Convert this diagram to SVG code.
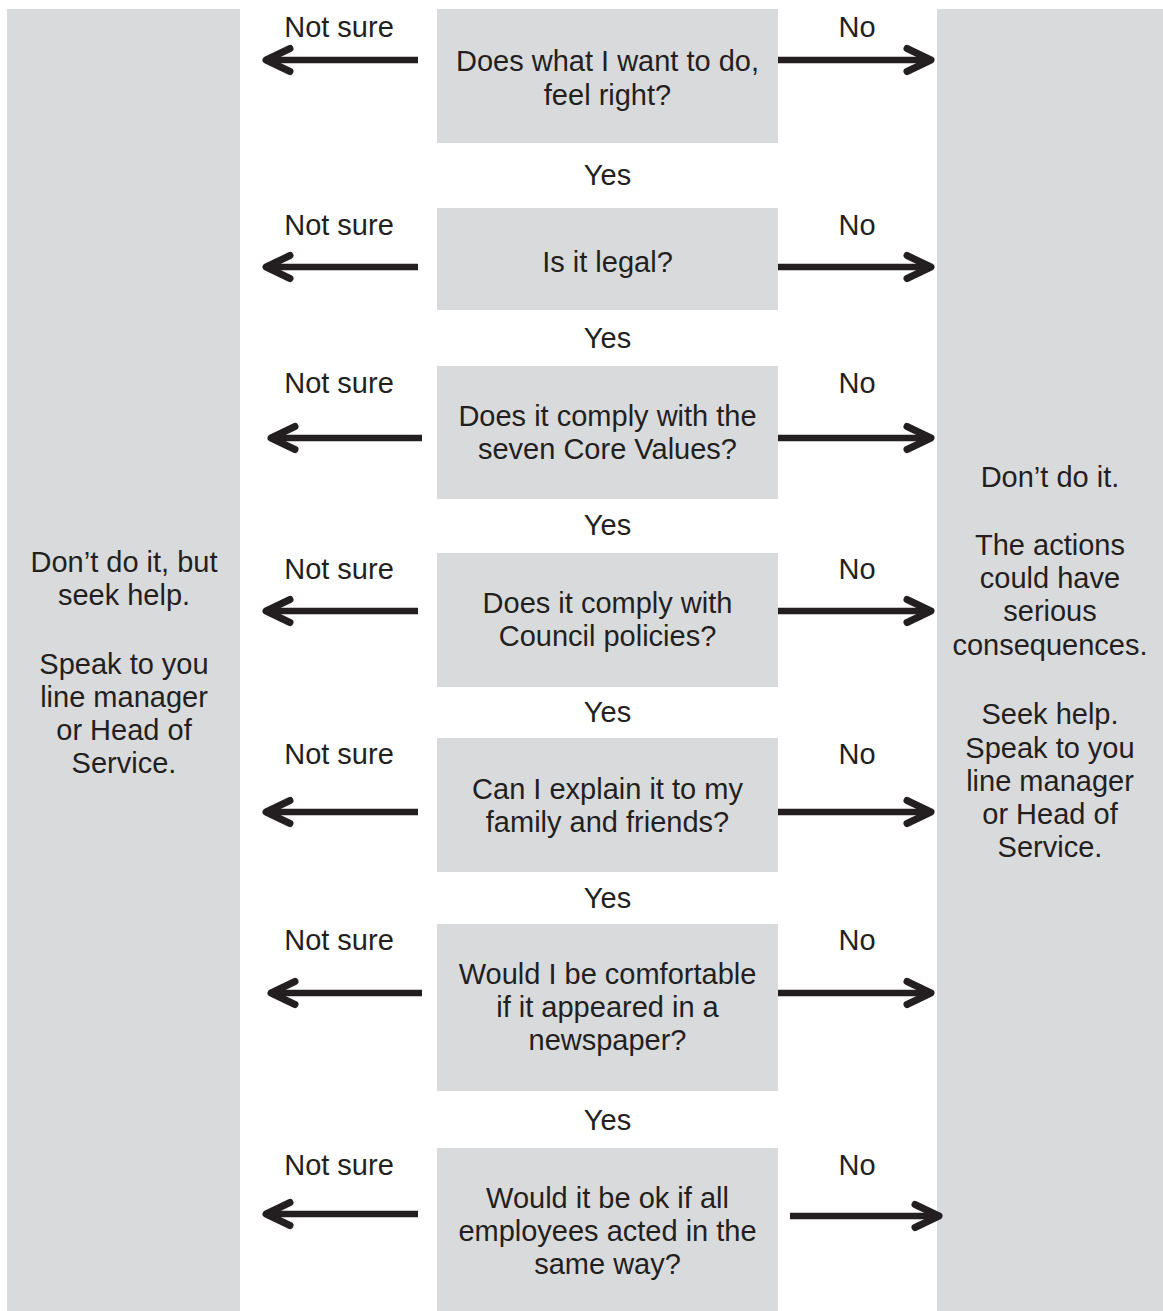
<svg xmlns="http://www.w3.org/2000/svg" width="1163" height="1311" viewBox="0 0 1163 1311">
<style>
.panel{fill:#d9dadc}
.box{fill:#d9dadc}
text{font-family:"Liberation Sans",Arial,sans-serif;font-size:29px;fill:#231f20;text-anchor:middle}
.arrow{stroke:#231f20;stroke-width:6.5;fill:none}
</style>
<defs>
<marker id="head" markerUnits="userSpaceOnUse" viewBox="-32 -18 40 36" markerWidth="40" markerHeight="36" refX="0" refY="0" orient="auto" overflow="visible">
<path d="M-24,-11.5 L0,0 L-24,11.5" fill="none" stroke="#231f20" stroke-width="7" stroke-linecap="round" stroke-linejoin="round"/>
</marker>
</defs>
<rect width="1163" height="1311" fill="#ffffff"/>
<g id="not-sure-panel">
<rect class="panel" x="7" y="9" width="233" height="1302"/>
<text x="124" y="572">Don’t do it, but</text>
<text x="124" y="605">seek help.</text>
<text x="124" y="674">Speak to you</text>
<text x="124" y="707">line manager</text>
<text x="124" y="740">or Head of</text>
<text x="124" y="773">Service.</text>
</g>
<g id="no-panel">
<rect class="panel" x="937" y="9" width="226" height="1302"/>
<text x="1050" y="487">Don’t do it.</text>
<text x="1050" y="555">The actions</text>
<text x="1050" y="588">could have</text>
<text x="1050" y="621">serious</text>
<text x="1050" y="655">consequences.</text>
<text x="1050" y="724">Seek help.</text>
<text x="1050" y="758">Speak to you</text>
<text x="1050" y="791">line manager</text>
<text x="1050" y="824">or Head of</text>
<text x="1050" y="857">Service.</text>
</g>
<g id="q1">
<rect class="box" x="437" y="9" width="341" height="134"/>
<text x="607.5" y="71">Does what I want to do,</text>
<text x="607.5" y="105">feel right?</text>
</g>
<g id="q2">
<rect class="box" x="437" y="208" width="341" height="102"/>
<text x="607.5" y="272">Is it legal?</text>
</g>
<g id="q3">
<rect class="box" x="437" y="366" width="341" height="133"/>
<text x="607.5" y="426">Does it comply with the</text>
<text x="607.5" y="459">seven Core Values?</text>
</g>
<g id="q4">
<rect class="box" x="437" y="553" width="341" height="134"/>
<text x="607.5" y="613">Does it comply with</text>
<text x="607.5" y="646">Council policies?</text>
</g>
<g id="q5">
<rect class="box" x="437" y="738" width="341" height="134"/>
<text x="607.5" y="799">Can I explain it to my</text>
<text x="607.5" y="832">family and friends?</text>
</g>
<g id="q6">
<rect class="box" x="437" y="924" width="341" height="167"/>
<text x="607.5" y="984">Would I be comfortable</text>
<text x="607.5" y="1017">if it appeared in a</text>
<text x="607.5" y="1050">newspaper?</text>
</g>
<g id="q7">
<rect class="box" x="437" y="1148" width="341" height="163"/>
<text x="607.5" y="1208">Would it be ok if all</text>
<text x="607.5" y="1241">employees acted in the</text>
<text x="607.5" y="1274">same way?</text>
</g>
<g id="connectors">
<line class="arrow" x1="418" y1="60" x2="266" y2="60" marker-end="url(#head)"/>
<line class="arrow" x1="778" y1="60" x2="931" y2="60" marker-end="url(#head)"/>
<line class="arrow" x1="418" y1="267" x2="266" y2="267" marker-end="url(#head)"/>
<line class="arrow" x1="778" y1="267" x2="931" y2="267" marker-end="url(#head)"/>
<line class="arrow" x1="422" y1="438" x2="271" y2="438" marker-end="url(#head)"/>
<line class="arrow" x1="778" y1="438" x2="931" y2="438" marker-end="url(#head)"/>
<line class="arrow" x1="418" y1="611" x2="266" y2="611" marker-end="url(#head)"/>
<line class="arrow" x1="778" y1="611" x2="931" y2="611" marker-end="url(#head)"/>
<line class="arrow" x1="418" y1="812" x2="266" y2="812" marker-end="url(#head)"/>
<line class="arrow" x1="778" y1="812" x2="931" y2="812" marker-end="url(#head)"/>
<line class="arrow" x1="422" y1="993" x2="271" y2="993" marker-end="url(#head)"/>
<line class="arrow" x1="778" y1="993" x2="931" y2="993" marker-end="url(#head)"/>
<line class="arrow" x1="418" y1="1214" x2="266" y2="1214" marker-end="url(#head)"/>
<line class="arrow" x1="790" y1="1216" x2="939" y2="1216" marker-end="url(#head)"/>
<text x="339" y="37">Not sure</text>
<text x="857" y="37">No</text>
<text x="607.5" y="185">Yes</text>
<text x="339" y="235">Not sure</text>
<text x="857" y="235">No</text>
<text x="607.5" y="348">Yes</text>
<text x="339" y="393">Not sure</text>
<text x="857" y="393">No</text>
<text x="607.5" y="535">Yes</text>
<text x="339" y="579">Not sure</text>
<text x="857" y="579">No</text>
<text x="607.5" y="722">Yes</text>
<text x="339" y="764">Not sure</text>
<text x="857" y="764">No</text>
<text x="607.5" y="908">Yes</text>
<text x="339" y="950">Not sure</text>
<text x="857" y="950">No</text>
<text x="607.5" y="1130">Yes</text>
<text x="339" y="1175">Not sure</text>
<text x="857" y="1175">No</text>
</g>
</svg>
